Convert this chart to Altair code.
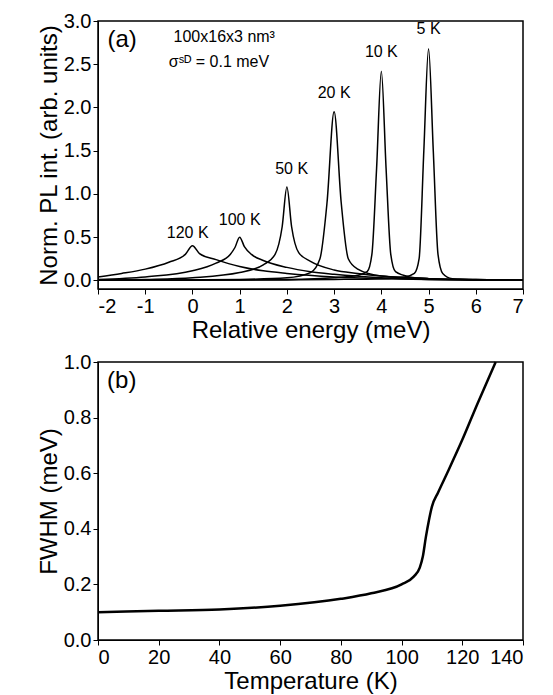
import pandas as pd
import altair as alt

# (a) spectra
x120 = [-2, -1.5, -1, -0.5, -0.15, 0, 0.15, 0.5, 1, 1.5, 2, 3, 4, 5, 6, 7]
y120 = [0.04, 0.08, 0.13, 0.21, 0.30, 0.40, 0.31, 0.24, 0.16, 0.11, 0.08, 0.04, 0.02, 0.01, 0.005, 0.0]
x100 = [-2, -1, 0, 0.5, 0.8, 0.9, 1, 1.1, 1.25, 1.5, 2, 2.5, 3, 4, 5, 6, 7]
y100 = [0.01, 0.04, 0.11, 0.20, 0.30, 0.38, 0.50, 0.39, 0.30, 0.23, 0.15, 0.10, 0.07, 0.03, 0.01, 0.005, 0.0]
x50 = [-2, -1, 0, 1, 1.5, 1.75, 1.9, 2, 2.1, 2.25, 2.5, 3, 3.5, 4, 5, 6, 7]
y50 = [0.0, 0.01, 0.03, 0.09, 0.18, 0.30, 0.62, 1.08, 0.62, 0.32, 0.22, 0.12, 0.08, 0.05, 0.02, 0.01, 0.0]
x20 = [-2, 0, 1, 2, 2.5, 2.7, 2.85, 3, 3.15, 3.3, 3.5, 4, 5, 6, 7]
y20 = [0.0, 0.005, 0.01, 0.03, 0.09, 0.25, 0.90, 1.95, 0.90, 0.25, 0.13, 0.05, 0.02, 0.01, 0.0]
x10 = [-2, 1, 2, 3, 3.5, 3.7, 3.8, 3.9, 4, 4.1, 4.2, 4.3, 4.6, 5, 6, 7]
y10 = [0.0, 0.005, 0.01, 0.03, 0.06, 0.10, 0.30, 1.30, 2.42, 1.30, 0.30, 0.10, 0.04, 0.02, 0.005, 0.0]
x5 = [-2, 2, 3, 4, 4.5, 4.7, 4.8, 4.9, 5, 5.1, 5.2, 5.3, 5.5, 6, 7]
y5 = [0.0, 0.005, 0.01, 0.02, 0.04, 0.08, 0.25, 1.50, 2.68, 1.50, 0.30, 0.08, 0.02, 0.005, 0.0]

labels = ["120 K", "100 K", "50 K", "20 K", "10 K", "5 K"]
label_x = [-0.1, 1.0, 2.1, 3.0, 4.0, 5.0]
label_y = [0.45, 0.60, 1.20, 2.07, 2.55, 2.82]

# (b) FWHM vs temperature
temp = [0, 20, 40, 60, 80, 90, 100, 104, 106, 107, 108, 109, 110, 112, 115, 120, 125, 131]
fwhm = [0.10, 0.105, 0.11, 0.123, 0.148, 0.168, 0.20, 0.228, 0.26, 0.30, 0.37, 0.43, 0.48, 0.53, 0.60, 0.72, 0.85, 1.0]

rows = []
for name, xs, ys in [("120", x120, y120), ("100", x100, y100), ("50", x50, y50),
                     ("20", x20, y20), ("10", x10, y10), ("5", x5, y5)]:
    for a, b in zip(xs, ys):
        rows.append({"T": name, "E": a, "I": b})
spec = pd.DataFrame(rows)
lab = pd.DataFrame({"t": labels, "x": label_x, "y": label_y})

FONT = "Liberation Sans"
ax = dict(labelFontSize=20, titleFontSize=24, titleFontWeight="normal", grid=False,
          tickSize=5, domainColor="black", tickColor="black", labelColor="black",
          titleColor="black", labelFont=FONT, titleFont=FONT, titlePadding=2)

W = 425
top = alt.Chart(spec).mark_line(color="black", strokeWidth=1.5, interpolate="monotone").encode(
    x=alt.X("E:Q", scale=alt.Scale(domain=[-2, 7], nice=False),
            axis=alt.Axis(title="Relative energy (meV)", values=list(range(-2, 8)),
                          labelExpr="replace(datum.label, '\u2212', '-')", **ax)),
    y=alt.Y("I:Q", scale=alt.Scale(domain=[-0.1, 3.0], nice=False),
            axis=alt.Axis(title="Norm. PL int. (arb. units)", values=[0, 0.5, 1, 1.5, 2, 2.5, 3],
                          format=".1f", **ax)),
    detail="T:N",
)
top_lab = alt.Chart(lab).mark_text(font=FONT, fontSize=16, baseline="bottom").encode(
    x="x:Q", y="y:Q", text="t:N")
info = alt.Chart(pd.DataFrame({"t": ["(a)", "100x16x3 nm³", "σˢᴰ = 0.1 meV"],
                               "x": [-1.8, -0.4, -0.5], "y": [2.78, 2.82, 2.52],
                               "s": [24, 16, 16]})).mark_text(font=FONT, align="left").encode(
    x="x:Q", y="y:Q", text="t:N", size=alt.Size("s:Q", scale=None, legend=None))
panel_a = alt.layer(top, top_lab, info).properties(width=W, height=268)

bot = alt.Chart(pd.DataFrame({"T": temp, "F": fwhm})).mark_line(
    color="black", strokeWidth=2.5, interpolate="monotone").encode(
    x=alt.X("T:Q", scale=alt.Scale(domain=[0, 140], nice=False),
            axis=alt.Axis(title="Temperature (K)", values=list(range(0, 141, 20)), **ax)),
    y=alt.Y("F:Q", scale=alt.Scale(domain=[0, 1.0], nice=False),
            axis=alt.Axis(title="FWHM (meV)", values=[0, 0.2, 0.4, 0.6, 0.8, 1.0], format=".1f", **ax)),
)
b_lab = alt.Chart(pd.DataFrame({"t": ["(b)"], "x": [3], "y": [0.93]})).mark_text(
    font=FONT, fontSize=24, align="left").encode(x="x:Q", y="y:Q", text="t:N")
panel_b = alt.layer(bot, b_lab).properties(width=W, height=278)

chart = alt.vconcat(panel_a, panel_b, spacing=8).configure_view(
    stroke="black", strokeWidth=1.5).properties(
    padding={"left": 28, "top": 2, "right": 8, "bottom": 2})

chart.save("out.html", embed_options={"renderer": "svg", "actions": False})
